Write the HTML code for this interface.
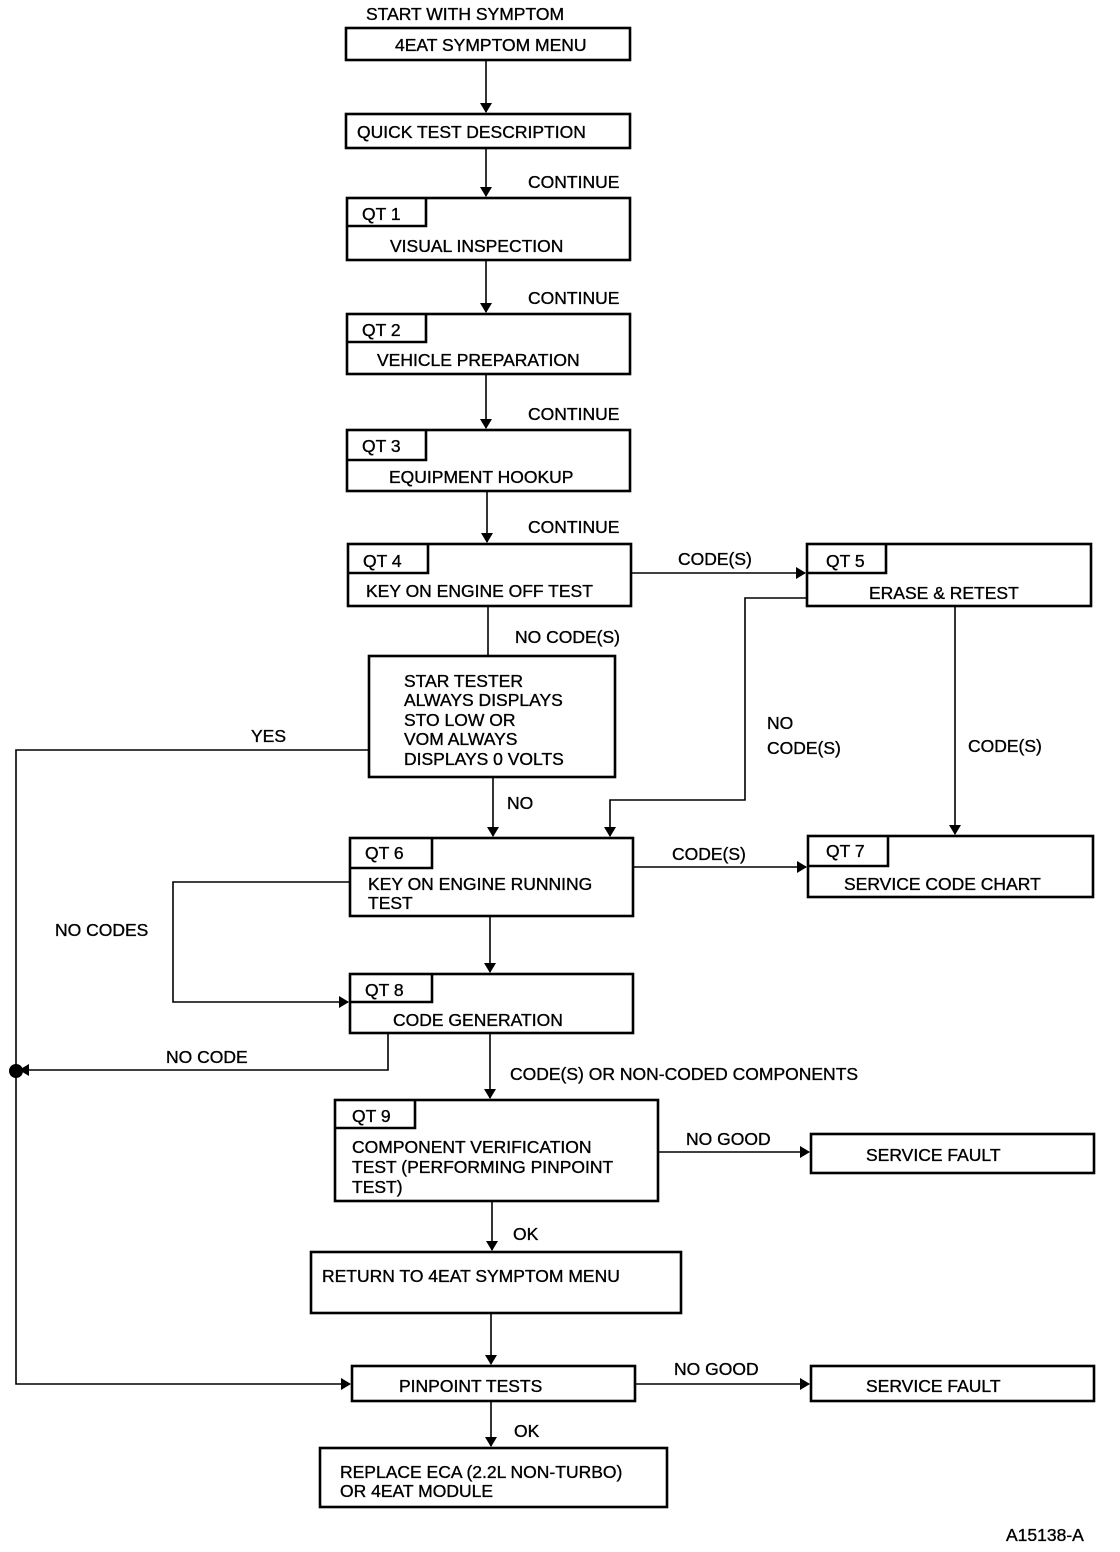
<!DOCTYPE html>
<html><head><meta charset="utf-8"><style>
html,body{margin:0;padding:0;background:#fff}
svg{display:block}
text{font-family:"Liberation Sans",sans-serif;font-size:17.5px;fill:#000;stroke:#000;stroke-width:0.35}
</style></head><body>
<svg width="1120" height="1552" viewBox="0 0 1120 1552" xmlns="http://www.w3.org/2000/svg">
<defs><marker id="a" markerWidth="10" markerHeight="14" refX="9" refY="7" orient="auto" markerUnits="userSpaceOnUse"><path d="M0,1 L10,7 L0,13 Z" fill="#000"/></marker></defs>
<g fill="none" stroke="#000" stroke-width="2.6">
<rect x="346" y="28" width="284" height="32"/>
<rect x="346" y="114" width="284" height="34"/>
<rect x="347" y="198" width="283" height="62"/><path d="M347,226 H426 V198"/>
<rect x="347" y="314" width="283" height="60"/><path d="M347,342 H426 V314"/>
<rect x="347" y="430" width="283" height="61"/><path d="M347,460 H426 V430"/>
<rect x="348" y="544" width="283" height="62"/><path d="M348,573 H428 V544"/>
<rect x="807" y="544" width="284" height="62"/><path d="M807,573 H886 V544"/>
<rect x="369" y="656" width="246" height="121"/>
<rect x="350" y="838" width="283" height="78"/><path d="M350,868 H432 V838"/>
<rect x="808" y="836" width="285" height="61"/><path d="M808,866 H888 V836"/>
<rect x="350" y="974" width="283" height="59"/><path d="M350,1002 H432 V974"/>
<rect x="335" y="1100" width="323" height="101"/><path d="M335,1128 H415 V1100"/>
<rect x="811" y="1134" width="283" height="39"/>
<rect x="311" y="1252" width="370" height="61"/>
<rect x="352" y="1366" width="283" height="35"/>
<rect x="811" y="1366" width="283" height="35"/>
<rect x="320" y="1448" width="347" height="59"/>
</g>
<g fill="none" stroke="#000" stroke-width="1.6">
<path d="M486,60 V112" marker-end="url(#a)"/>
<path d="M486,148 V196" marker-end="url(#a)"/>
<path d="M486,260 V312" marker-end="url(#a)"/>
<path d="M486,374 V428" marker-end="url(#a)"/>
<path d="M487,491 V542" marker-end="url(#a)"/>
<path d="M631,573 H805" marker-end="url(#a)"/>
<path d="M955,606 V834" marker-end="url(#a)"/>
<path d="M807,598 H745 V800 H610 V836" marker-end="url(#a)"/>
<path d="M488,606 V656"/>
<path d="M493,777 V836" marker-end="url(#a)"/>
<path d="M369,750 H16 V1384 H350" marker-end="url(#a)"/>
<path d="M633,867 H806" marker-end="url(#a)"/>
<path d="M350,882 H173 V1002 H348" marker-end="url(#a)"/>
<path d="M490,916 V972" marker-end="url(#a)"/>
<path d="M388,1033 V1070 H20" marker-end="url(#a)"/>
<path d="M490,1033 V1098" marker-end="url(#a)"/>
<path d="M658,1152 H809" marker-end="url(#a)"/>
<path d="M492,1201 V1250" marker-end="url(#a)"/>
<path d="M491,1313 V1364" marker-end="url(#a)"/>
<path d="M635,1384 H809" marker-end="url(#a)"/>
<path d="M491,1401 V1446" marker-end="url(#a)"/>
</g>
<circle cx="16" cy="1071" r="7" fill="#000"/>
<text x="366" y="20">START WITH SYMPTOM</text>
<text x="395" y="51">4EAT SYMPTOM MENU</text>
<text x="357" y="138">QUICK TEST DESCRIPTION</text>
<text x="528" y="188">CONTINUE</text>
<text x="362" y="220">QT 1</text>
<text x="390" y="252">VISUAL INSPECTION</text>
<text x="528" y="304">CONTINUE</text>
<text x="362" y="336">QT 2</text>
<text x="377" y="366">VEHICLE PREPARATION</text>
<text x="528" y="420">CONTINUE</text>
<text x="362" y="452">QT 3</text>
<text x="389" y="483">EQUIPMENT HOOKUP</text>
<text x="528" y="533">CONTINUE</text>
<text x="363" y="567">QT 4</text>
<text x="366" y="597">KEY ON ENGINE OFF TEST</text>
<text x="678" y="565">CODE(S)</text>
<text x="826" y="567">QT 5</text>
<text x="869" y="599">ERASE &amp; RETEST</text>
<text x="515" y="643">NO CODE(S)</text>
<text x="404" y="687">STAR TESTER</text>
<text x="404" y="706">ALWAYS DISPLAYS</text>
<text x="404" y="726">STO LOW OR</text>
<text x="404" y="745">VOM ALWAYS</text>
<text x="404" y="765">DISPLAYS 0 VOLTS</text>
<text x="251" y="742">YES</text>
<text x="767" y="729">NO</text>
<text x="767" y="754">CODE(S)</text>
<text x="968" y="752">CODE(S)</text>
<text x="507" y="809">NO</text>
<text x="365" y="859">QT 6</text>
<text x="368" y="890">KEY ON ENGINE RUNNING</text>
<text x="368" y="909">TEST</text>
<text x="672" y="860">CODE(S)</text>
<text x="826" y="857">QT 7</text>
<text x="844" y="890">SERVICE CODE CHART</text>
<text x="55" y="936">NO CODES</text>
<text x="365" y="996">QT 8</text>
<text x="393" y="1026">CODE GENERATION</text>
<text x="166" y="1063">NO CODE</text>
<text x="510" y="1080">CODE(S) OR NON-CODED COMPONENTS</text>
<text x="352" y="1122">QT 9</text>
<text x="352" y="1153">COMPONENT VERIFICATION</text>
<text x="352" y="1173">TEST (PERFORMING PINPOINT</text>
<text x="352" y="1193">TEST)</text>
<text x="686" y="1145">NO GOOD</text>
<text x="866" y="1161">SERVICE FAULT</text>
<text x="513" y="1240">OK</text>
<text x="322" y="1282">RETURN TO 4EAT SYMPTOM MENU</text>
<text x="399" y="1392">PINPOINT TESTS</text>
<text x="674" y="1375">NO GOOD</text>
<text x="866" y="1392">SERVICE FAULT</text>
<text x="514" y="1437">OK</text>
<text x="340" y="1478">REPLACE ECA (2.2L NON-TURBO)</text>
<text x="340" y="1497">OR 4EAT MODULE</text>
<text x="1006" y="1541">A15138-A</text>
</svg>
</body></html>
